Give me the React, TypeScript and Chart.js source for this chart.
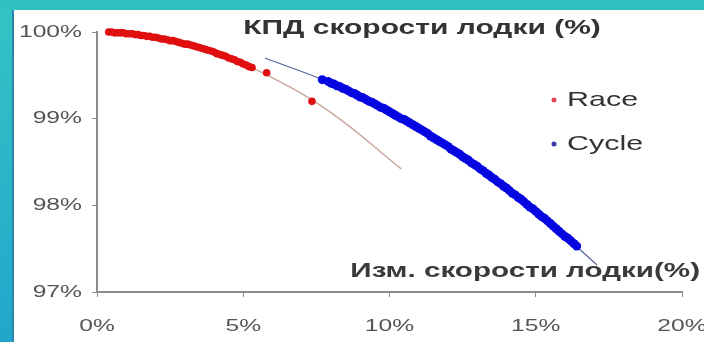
import React, { useEffect, useRef } from "react";
import { Chart, registerables } from "chart.js";

Chart.register(...registerables);

const TITLE = "КПД скорости лодки (%)";
const X_TITLE = "Изм. скорости лодки(%)";
const SERIES_NAMES = ["Race", "Cycle"];
const X_TICKS = [0, 5, 10, 15, 20];
const Y_TICKS = [97, 98, 99, 100];

const RACE_X = [0.4, 0.5, 0.6, 0.7, 0.8, 0.9, 1.0, 1.1, 1.2, 1.3, 1.4, 1.5, 1.6, 1.7, 1.8, 1.9, 2.0, 2.1, 2.2, 2.3, 2.4, 2.5, 2.6, 2.7, 2.8, 2.9, 3.0, 3.1, 3.2, 3.3, 3.4, 3.5, 3.6, 3.7, 3.8, 3.9, 4.0, 4.1, 4.2, 4.3, 4.4, 4.5, 4.6, 4.7, 4.8, 4.9, 5.0, 5.1, 5.2, 5.3, 5.8, 7.35];
const RACE_Y = [100.0, 100.0, 99.99, 99.99, 99.99, 99.99, 99.98, 99.98, 99.98, 99.97, 99.97, 99.96, 99.96, 99.95, 99.95, 99.94, 99.94, 99.93, 99.92, 99.92, 99.91, 99.9, 99.9, 99.89, 99.88, 99.87, 99.86, 99.86, 99.85, 99.84, 99.83, 99.82, 99.81, 99.8, 99.79, 99.78, 99.77, 99.75, 99.74, 99.73, 99.72, 99.7, 99.69, 99.68, 99.66, 99.65, 99.63, 99.62, 99.6, 99.59, 99.53, 99.2];

const CYCLE_X = [7.7, 7.9, 8.0, 8.1, 8.2, 8.3, 8.4, 8.5, 8.6, 8.7, 8.8, 8.9, 9.0, 9.1, 9.2, 9.3, 9.4, 9.5, 9.6, 9.7, 9.8, 9.9, 10.0, 10.1, 10.2, 10.3, 10.4, 10.5, 10.6, 10.7, 10.8, 10.9, 11.0, 11.1, 11.2, 11.3, 11.4, 11.5, 11.6, 11.7, 11.8, 11.9, 12.0, 12.1, 12.2, 12.3, 12.4, 12.5, 12.6, 12.7, 12.8, 12.9, 13.0, 13.1, 13.2, 13.3, 13.4, 13.5, 13.6, 13.7, 13.8, 13.9, 14.0, 14.1, 14.2, 14.3, 14.4, 14.5, 14.6, 14.7, 14.8, 14.9, 15.0, 15.1, 15.2, 15.3, 15.4, 15.5, 15.6, 15.7, 15.8, 15.9, 16.0, 16.1, 16.2, 16.3, 16.4];
const CYCLE_Y = [99.45, 99.43, 99.41, 99.4, 99.38, 99.37, 99.35, 99.34, 99.32, 99.3, 99.29, 99.27, 99.25, 99.24, 99.22, 99.2, 99.19, 99.17, 99.15, 99.13, 99.12, 99.1, 99.08, 99.06, 99.04, 99.02, 99.0, 98.99, 98.97, 98.95, 98.93, 98.91, 98.89, 98.87, 98.85, 98.83, 98.8, 98.78, 98.76, 98.74, 98.72, 98.7, 98.68, 98.65, 98.63, 98.61, 98.59, 98.56, 98.54, 98.52, 98.49, 98.47, 98.45, 98.42, 98.4, 98.37, 98.35, 98.32, 98.3, 98.27, 98.25, 98.22, 98.2, 98.17, 98.14, 98.12, 98.09, 98.07, 98.04, 98.01, 97.98, 97.96, 97.93, 97.9, 97.87, 97.85, 97.82, 97.79, 97.76, 97.73, 97.7, 97.67, 97.64, 97.62, 97.59, 97.56, 97.53];

const RACE_TREND_X = [0.4, 2, 4, 6, 8, 10.4];
const RACE_TREND_Y = [100.0, 99.94, 99.77, 99.47, 99.07, 98.42];
const CYCLE_TREND_X = [5.74, 8, 10, 12, 14, 16, 17.1];
const CYCLE_TREND_Y = [99.7, 99.41, 99.08, 98.68, 98.2, 97.64, 97.31];

const zip = (xs: number[], ys: number[]) => xs.map((x, i) => ({ x, y: ys[i] }));

const FONT = '"Liberation Sans", Arial, sans-serif';

function drawText(ctx: CanvasRenderingContext2D, text: string, x: number, y: number, font: string, color: string, align: "left" | "right" | "center", sx: number) {
  ctx.save();
  ctx.font = font;
  ctx.fillStyle = color;
  ctx.textBaseline = "middle";
  ctx.textAlign = "left";
  const w = ctx.measureText(text).width * sx;
  const left = align === "left" ? x : align === "right" ? x - w : x - w / 2;
  ctx.translate(left, y);
  ctx.scale(sx, 1);
  ctx.fillText(text, 0, 0);
  ctx.restore();
}

const textPlugin = {
  id: "customText",
  afterDraw(chart: any) {
    const ctx = chart.ctx as CanvasRenderingContext2D;
    const xs = chart.scales.x;
    const ys = chart.scales.y;
    Y_TICKS.forEach((v) => {
      drawText(ctx, v + "%", 82, ys.getPixelForValue(v), `17px ${FONT}`, "#555", "right", 1.45);
    });
    X_TICKS.forEach((v) => {
      drawText(ctx, v + "%", xs.getPixelForValue(v), 326, `17px ${FONT}`, "#555", "center", 1.45);
    });
    drawText(ctx, TITLE, 422, 28, `bold 20px ${FONT}`, "#333", "center", 1.5);
    drawText(ctx, X_TITLE, 700, 271, `bold 20px ${FONT}`, "#3a3a3a", "right", 1.48);
    const legendColors = ["#e04858", "#3838a8"];
    const legendY = [100, 144];
    SERIES_NAMES.forEach((name, i) => {
      ctx.save();
      ctx.fillStyle = legendColors[i];
      ctx.beginPath();
      ctx.arc(554, legendY[i], 2.5, 0, Math.PI * 2);
      ctx.fill();
      ctx.restore();
      drawText(ctx, name, 567, legendY[i], `21px ${FONT}`, "#333", "left", 1.45);
    });
  },
};

export default function App() {
  const ref = useRef<HTMLCanvasElement | null>(null);
  useEffect(() => {
    document.body.style.margin = "0";
    if (!ref.current) return;
    const chart = new Chart(ref.current, {
      type: "scatter",
      data: {
        datasets: [
          {
            label: SERIES_NAMES[0],
            data: zip(RACE_X, RACE_Y),
            backgroundColor: "#e01010",
            borderColor: "#e01010",
            pointRadius: 3.8,
            pointBorderWidth: 0,
            order: 1,
            clip: false,
          },
          {
            label: SERIES_NAMES[1],
            data: zip(CYCLE_X, CYCLE_Y),
            backgroundColor: "#0606e0",
            borderColor: "#0606e0",
            pointRadius: 4.5,
            pointBorderWidth: 0,
            order: 1,
            clip: false,
          },
          {
            label: "Race trend",
            data: zip(RACE_TREND_X, RACE_TREND_Y),
            showLine: true,
            borderColor: "#c8a89c",
            borderWidth: 1.5,
            pointRadius: 0,
            tension: 0.4,
            order: 2,
            clip: false,
          },
          {
            label: "Cycle trend",
            data: zip(CYCLE_TREND_X, CYCLE_TREND_Y),
            showLine: true,
            borderColor: "#56659a",
            borderWidth: 1.2,
            pointRadius: 0,
            tension: 0.4,
            order: 2,
            clip: false,
          },
        ],
      },
      options: {
        responsive: false,
        animation: false,
        devicePixelRatio: 1,
        layout: { padding: { top: 32, right: 22, bottom: 0, left: 0 } },
        plugins: { legend: { display: false }, tooltip: { enabled: false }, title: { display: false } },
        scales: {
          x: {
            type: "linear",
            min: 0,
            max: 20,
            ticks: { display: false, stepSize: 5 },
            grid: { drawOnChartArea: false, drawTicks: true, tickLength: 5, color: "#8c8c8c" },
            border: { display: true, color: "#8c8c8c", width: 2 },
            afterFit: (s: any) => { s.height = 50; },
          },
          y: {
            type: "linear",
            min: 97,
            max: 100,
            ticks: { display: false, stepSize: 1 },
            grid: { drawOnChartArea: false, drawTicks: true, tickLength: 5, color: "#8c8c8c" },
            border: { display: true, color: "#8c8c8c", width: 2 },
            afterFit: (s: any) => { s.width = 97; },
          },
        },
      },
      plugins: [textPlugin],
    } as any);
    return () => chart.destroy();
  }, []);

  return (
    <div style={{ position: "relative", width: 704, height: 342, background: "linear-gradient(180deg, #34c4c4 0%, #22a6cc 100%)", overflow: "hidden" }}>
      <div style={{ position: "absolute", left: 0, top: 0, right: 0, height: 10, background: "#30c0c0" }} />
      <div style={{ position: "absolute", left: 12, top: 10, right: 0, bottom: 0, background: "#fff", borderLeft: "2px solid #2a86a8" }} />
      <canvas ref={ref} width={704} height={342} style={{ position: "absolute", left: 0, top: 0 }} />
    </div>
  );
}
